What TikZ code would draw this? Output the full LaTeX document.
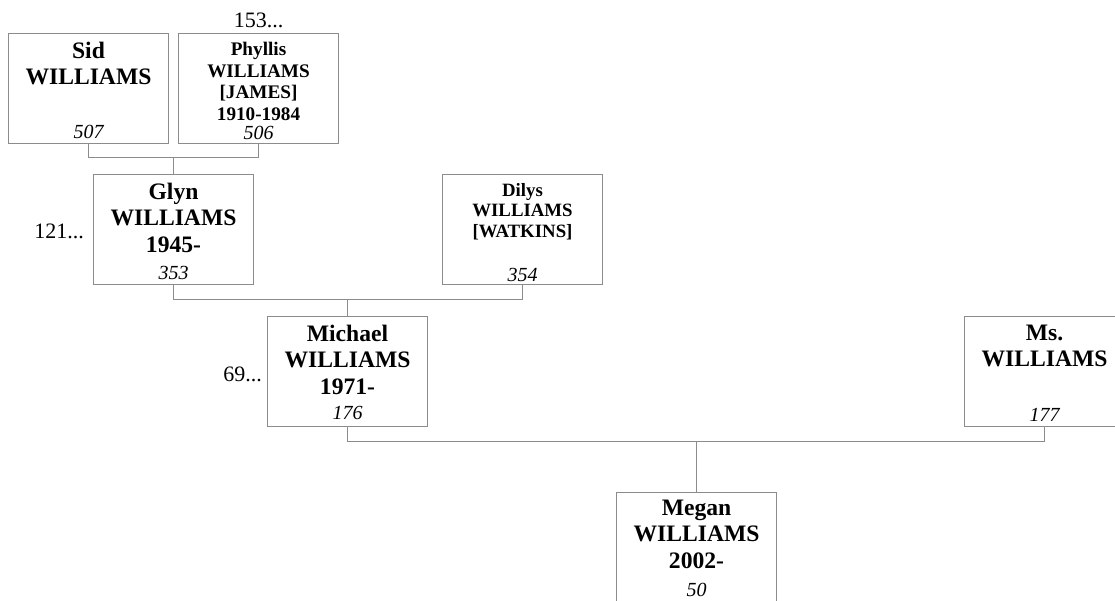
\documentclass[tikz,border=0pt]{standalone}
\usepackage{fontspec}
\setmainfont{Liberation Serif}
\definecolor{linegray}{HTML}{8C8C8C}
\begin{document}
\begin{tikzpicture}[x=1pt,y=-1pt,
  pbox/.style={draw=linegray, line width=1pt, minimum width=160, minimum height=110, inner sep=0, anchor=north west},
  nameb/.style={font=\fontsize{23.6}{26.8}\selectfont\bfseries, align=center, anchor=north, inner sep=0},
  namep/.style={font=\fontsize{19.2}{21.7}\selectfont\bfseries, align=center, anchor=north, inner sep=0},
  named/.style={font=\fontsize{18.8}{20.5}\selectfont\bfseries, align=center, anchor=north, inner sep=0},
  num/.style={font=\fontsize{20}{22}\selectfont\itshape, anchor=base, inner sep=0},
  more/.style={font=\fontsize{22}{24}\selectfont, inner sep=0},
  conn/.style={draw=linegray, line width=1pt}]
\useasboundingbox (0,0) rectangle (1115,600);
\clip (0,0) rectangle (1115,600);

% boxes
\node[pbox] (sid) at (8,33) {};
\node[pbox] (phyllis) at (178,33) {};
\node[pbox] (glyn) at (93,174) {};
\node[pbox] (dilys) at (442,174) {};
\node[pbox] (michael) at (267,316) {};
\node[pbox] (ms) at (964,316) {};
\node[pbox] (megan) at (616,492) {};

% names
\node[nameb] (sidt) at ([yshift=-8.5]sid.north) {Sid\\WILLIAMS};
\node[namep] (phyllist) at ([yshift=-9]phyllis.north) {Phyllis\\WILLIAMS\\{[JAMES]}\\1910-1984};
\node[nameb] (glynt) at ([yshift=-8.5]glyn.north) {Glyn\\WILLIAMS\\1945-};
\node[named] (dilyst) at ([yshift=-9]dilys.north) {Dilys\\WILLIAMS\\{[WATKINS]}};
\node[nameb] (michaelt) at ([yshift=-8.5]michael.north) {Michael\\WILLIAMS\\1971-};
\node[nameb] (mst) at ([yshift=-8.5]ms.north) {Ms.\\WILLIAMS};
\node[nameb] (megant) at ([yshift=-7.5]megan.north) {Megan\\WILLIAMS\\2002-};

% numbers
\node[num] (sidn) at ([yshift=6]sid.south) {507};
\node[num] (phyllisn) at ([yshift=5]phyllis.south) {506};
\node[num] (glynn) at ([yshift=6]glyn.south) {353};
\node[num] (dilysn) at ([yshift=4]dilys.south) {354};
\node[num] (michaeln) at ([yshift=8]michael.south) {176};
\node[num] (msn) at ([yshift=6]ms.south) {177};
\node[num] (megann) at ([yshift=7]megan.south) {50};

% continuation markers
\node[more, anchor=base] (phyllism) at ([yshift=6]phyllis.north) {153...};
\node[more, anchor=base east] (glynm) at ([xshift=-9,yshift=-64]glyn.north west) {121...};
\node[more, anchor=base east] (michaelm) at ([xshift=-5,yshift=-65]michael.north west) {69...};

% connectors
\coordinate (j1) at (173,157);
\coordinate (j2) at (347,299);
\coordinate (j3) at (696,441);
\draw[conn] (sid.south) |- (phyllis.south |- j1) -- (phyllis.south);
\draw[conn] (glyn.north) -- (glyn.north |- j1);
\draw[conn] (glyn.south) |- (dilys.south |- j2) -- (dilys.south);
\draw[conn] (michael.north) -- (michael.north |- j2);
\draw[conn] (michael.south) |- (ms.south |- j3) -- (ms.south);
\draw[conn] (megan.north) -- (megan.north |- j3);
\end{tikzpicture}
\end{document}
